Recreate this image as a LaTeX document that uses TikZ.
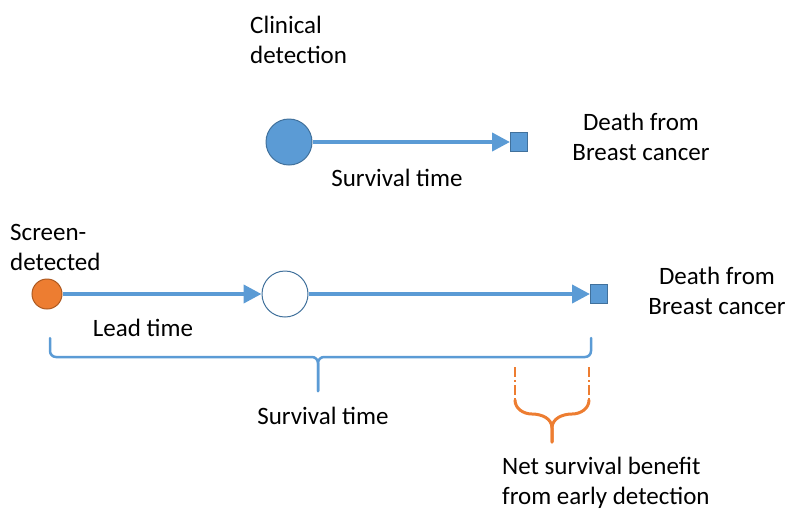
\documentclass[tikz,border=0pt]{standalone}
\usepackage{fontspec}
\setmainfont{Carlito}
\usetikzlibrary{arrows.meta, positioning}
\definecolor{bluefill}{HTML}{5B9BD5}
\definecolor{blueline}{HTML}{41719C}
\definecolor{orangefill}{HTML}{ED7D31}
\definecolor{orangeline}{HTML}{AE5A21}

\begin{document}
\begin{tikzpicture}[x=1pt, y=-1pt, font=\fontsize{25}{30}\selectfont]
        % Define block styles
        \tikzstyle{bignode} = [circle, draw=blueline, line width=1pt, minimum size=46pt, inner sep=0pt]
        \tikzstyle{smallnode} = [circle, draw=orangeline, fill=orangefill, line width=1pt, minimum size=30pt, inner sep=0pt]
        \tikzstyle{endnode} = [rectangle, draw=blueline, fill=bluefill, line width=1pt, minimum width=17pt, minimum height=19pt, inner sep=0pt]
        \tikzstyle{txt} = [inner sep=0pt, align=left]
        \tikzstyle{line} = [draw=bluefill, line width=4pt, -{Triangle[length=18pt, width=18pt]}]
        \tikzstyle{brace} = [draw=bluefill, line width=2.5pt, line cap=round]
        \tikzstyle{gap} = [draw=orangefill, line width=2.5pt, dash pattern=on 10pt off 3pt on 2pt off 3pt]
        \tikzstyle{orangebrace} = [draw=orangefill, line width=3pt, line cap=round]

        \useasboundingbox (0,0) rectangle (789,512);

        % Define nodes
        \node [bignode, fill=bluefill] (C) at (289,142) {};
        \node [endnode] (D1) at (519,142) {};
        \node [smallnode] (S) at (47,294) {};
        \node [bignode, fill=white] (L) at (285,294) {};
        \node [endnode] (D2) at (599,294) {};

        \node [txt, anchor=west] (clin) at (250,40) {Clinical\\detection};
        \node [txt, align=center] (death1) at (641,137) {Death from\\Breast cancer};
        \node [txt] (surv1) at (397,178) {Survival time};
        \node [txt, anchor=west] (scr) at (10,247) {Screen-\\detected};
        \node [txt] (lead) at (143,328) {Lead time};
        \node [txt, align=center] (death2) at (717,291) {Death from\\Breast cancer};
        \node [txt] (surv2) at (323,416) {Survival time};
        \node [txt, anchor=west] (net) at (502,483) {Net survival benefit\\from early detection};

        % Connect nodes with paths
        \draw[line] (C) -- (D1);
        \draw[line] (S) -- (L);
        \draw[line] (L) -- (D2);

        % Braces
        \coordinate (bl) at (50,338);
        \coordinate (br) at (591,338);
        \coordinate (bm) at (318,391);
        \draw[brace, rounded corners=6pt] (bl) -- (50,357) -- (318,357) -- (bm);
        \draw[brace, rounded corners=6pt] (br) -- (591,357) -- (318,357) -- (bm);

        \coordinate (ol) at (515,367);
        \coordinate (or) at (589,367);
        \coordinate (om) at (552,442);
        \draw[gap] (ol) -- (515,400);
        \draw[gap] (or) -- (589,400);
        \draw[orangebrace] (515,400) to[out=-90, in=180] (532,414) to[out=0, in=90] (552,428) -- (om);
        \draw[orangebrace] (589,400) to[out=-90, in=0] (572,414) to[out=180, in=90] (552,428) -- (om);
\end{tikzpicture}
\end{document}
